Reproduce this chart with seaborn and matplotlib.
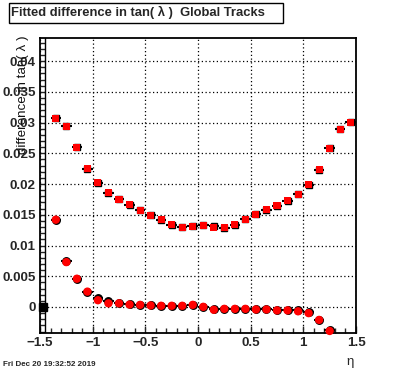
import numpy as np
import pandas as pd
import matplotlib
matplotlib.use("Agg")
import matplotlib.pyplot as plt
from matplotlib.lines import Line2D
from matplotlib.patches import Rectangle
from matplotlib.ticker import MultipleLocator
import seaborn as sns

sns.set_theme(style='white')
plt.rcParams['font.family'] = ['Liberation Sans', 'DejaVu Sans']

# upper series (squares), bins -1.35 .. 1.45
eta_sq = [-1.35, -1.25, -1.15, -1.05, -0.95, -0.85, -0.75, -0.65, -0.55, -0.45,
          -0.35, -0.25, -0.15, -0.05, 0.05, 0.15, 0.25, 0.35, 0.45, 0.55,
          0.65, 0.75, 0.85, 0.95, 1.05, 1.15, 1.25, 1.35, 1.45]
diff_sq = [0.0307, 0.0294, 0.0260, 0.0225, 0.0202, 0.0186, 0.0175, 0.0166, 0.0157, 0.0149,
           0.0142, 0.0134, 0.0130, 0.0131, 0.0133, 0.0130, 0.0129, 0.0134, 0.0143, 0.0151,
           0.0158, 0.0165, 0.0173, 0.0183, 0.0199, 0.0223, 0.0258, 0.0289, 0.0300]
diff_sq_black = [0.0308, 0.0294, 0.0260, 0.0225, 0.0201, 0.0186, 0.0175, 0.0166, 0.0157, 0.0149,
                 0.0142, 0.0134, 0.0130, 0.0131, 0.0133, 0.0131, 0.0129, 0.0134, 0.0143, 0.0151,
                 0.0158, 0.0165, 0.0173, 0.0183, 0.0199, 0.0223, 0.0258, 0.0290, 0.0301]

# lower series (circles), bins -1.35 .. 1.25
eta_ci = eta_sq[:27]
diff_ci = [0.0142, 0.0073, 0.0046, 0.0025, 0.0011, 0.0006, 0.0006, 0.0004, 0.00035, 0.00025,
           0.0002, 0.0002, 0.0002, 0.00035, 0.00003, -0.00045, -0.0003, -0.0003, -0.0003, -0.0004,
           -0.0004, -0.00055, -0.00055, -0.0007, -0.001, -0.0021, -0.0039]
diff_ci_black = [0.0142, 0.0074, 0.0046, 0.0025, 0.0014, 0.0009, 0.0006, 0.0005, 0.0004, 0.0003,
                 0.0002, 0.0002, 0.0002, 0.0004, 0.00005, -0.0004, -0.0003, -0.0003, -0.0003, -0.0004,
                 -0.0004, -0.0005, -0.0005, -0.0005, -0.0008, -0.0021, -0.0038]

# lone black point at the left edge
eta_edge = [-1.467]
diff_edge = [0.0]

df_sq = pd.DataFrame({'eta': eta_sq, 'diff': diff_sq, 'black': diff_sq_black})
df_ci = pd.DataFrame({'eta': eta_ci, 'diff': diff_ci, 'black': diff_ci_black})

fig = plt.figure(figsize=(3.96, 3.72), dpi=100)
ax = fig.add_axes([40/396, 1 - 333/372, 316/396, (333 - 37.7)/372])

# black series with x error bars (drawn first)
ax.errorbar(df_sq['eta'], df_sq['black'], xerr=0.05, fmt='s', color='black',
            ms=4.6, elinewidth=1.5, capsize=0, zorder=3)
ax.errorbar(df_ci['eta'], df_ci['black'], xerr=0.05, fmt='o', color='black',
            ms=5.4, elinewidth=1.5, capsize=0, zorder=3)
ax.errorbar(eta_edge, diff_edge, fmt='s', color='black', ms=5.5, zorder=3, clip_on=False)

# red series on top
sns.scatterplot(data=df_sq, x='eta', y='diff', marker='s', color='red', s=26,
                edgecolor='none', linewidth=0, ax=ax, zorder=4)
sns.scatterplot(data=df_ci, x='eta', y='diff', marker='o', color='red', s=36,
                edgecolor='none', linewidth=0, ax=ax, zorder=4, clip_on=False)

ax.set_xlim(-1.5, 1.5)
ax.set_ylim(-0.00423, 0.0438)
ax.xaxis.set_major_locator(MultipleLocator(0.5))
ax.xaxis.set_minor_locator(MultipleLocator(0.1))
ax.yaxis.set_major_locator(MultipleLocator(0.005))
ax.yaxis.set_minor_locator(MultipleLocator(0.001))
ax.xaxis.set_major_formatter(matplotlib.ticker.FuncFormatter(
    lambda v, p: ('%g' % v).replace('-', '\u2212')))
ax.yaxis.set_major_formatter(matplotlib.ticker.FuncFormatter(lambda v, p: '%g' % round(v, 4)))

ax.tick_params(axis='x', which='major', direction='in', length=5, width=1, pad=3,
               labelsize=9.6, bottom=True, top=False)
ax.tick_params(axis='x', which='minor', direction='in', length=3.3, width=1, bottom=True, top=False)
ax.tick_params(axis='y', which='both', direction='in', length=3.4, width=1, pad=3,
               labelsize=9.6, left=True, right=False)
for lab in ax.get_xticklabels() + ax.get_yticklabels():
    lab.set_fontweight('bold')

ax.grid(True, which='major', color='black', linestyle=(0, (1, 2)), linewidth=0.9)
for sp in ax.spines.values():
    sp.set_color('black')
    sp.set_linewidth(1.3)

# ladder line at tip of y ticks
ax.add_line(Line2D([4.6/316, 4.6/316], [0, 1], transform=ax.transAxes,
                   color='black', lw=1, zorder=5))

ax.set_xlabel('')
ax.set_ylabel('difference in tan( \u03bb )', fontsize=9.6, loc='top', color='#111111')
ax.yaxis.set_label_coords(-0.035, 1.008)

fig.text(350/396, 1 - 362/372, '\u03b7', fontsize=9.5, ha='center', va='center')
fig.text(3/396, 1 - 365/372, 'Fri Dec 20 19:32:52 2019', fontsize=5.8,
         fontweight='bold', ha='left', va='center')

fig.add_artist(Rectangle((9/396, 1 - 22.7/372), (282.7 - 9)/396, 19.7/372,
                         transform=fig.transFigure, facecolor='white',
                         edgecolor='black', lw=1))
fig.text(11/396, 1 - 12.8/372, 'Fitted difference in tan( \u03bb )  Global Tracks',
         fontsize=9.4, fontweight='bold', ha='left', va='center')

fig.savefig('out.png', dpi=100)
